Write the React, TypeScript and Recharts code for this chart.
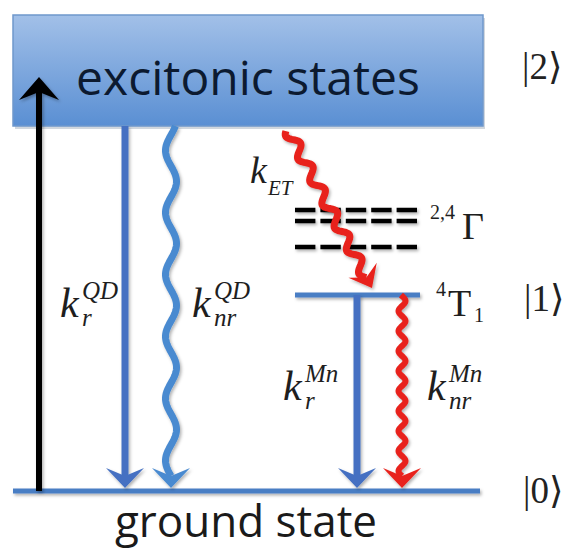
import React from 'react';
import { ComposedChart, XAxis, YAxis, ReferenceLine, ReferenceArea, ReferenceDot } from 'recharts';

// ---------- data (diagram units: x = horizontal position, E = energy, ground = 0) ----------
const bandNames = ['excitonic states'];
const bandEnergyLow = [365];
const bandEnergyHigh = [476];
const bandXStart = [13];
const bandXEnd = [483];

const levelNames = ['ground', '4T1', '2,4Γ a', '2,4Γ b', '2,4Γ c'];
const levelEnergy = [0, 196, 281, 270, 244];
const levelXStart = [13, 295, 295, 295, 295];
const levelXEnd = [480, 420, 417, 417, 417];
const levelDashed = [false, false, true, true, true];

const transitionNames = ['absorption', 'kr_QD', 'knr_QD', 'kET', 'kr_Mn', 'knr_Mn'];
const transFromX = [39, 125, 171, 288, 357, 402];
const transFromE = [0, 365, 365, 361, 196, 196];
const transToX = [39, 125, 171, 372, 357, 402];
const transToE = [414, 3, 3, 203, 3, 3];
const transWavy = [false, false, true, true, false, true];

// rate labels
const rateBase = ['k', 'k', 'k', 'k', 'k'];
const rateSub = ['r', 'nr', 'ET', 'r', 'nr'];
const rateSup = ['QD', 'QD', '', 'Mn', 'Mn'];
const rateX = [60, 192, 250, 283, 427];
const rateE = [174, 174, 308, 91, 91];

// state kets
const ketLabels = ['|2⟩', '|1⟩', '|0⟩'];
const ketX = [522, 524, 523];
const ketE = [412, 180, -12];

// term symbols
const termSup = ['2,4', '4'];
const termMain = ['Γ', 'T'];
const termSub = ['', '1'];
const termX = [430, 436];
const termE = [252, 175];

const groundLabel = 'ground state';
const groundLabelX = 246;
const groundLabelE = -46;

// ---------- styles ----------
const transColor = ['#000000', '#4470c2', '#4a8ad0', '#e8221b', '#4470c2', '#e8221b'];
const transWidth = [6, 7, 7, 7, 7, 6];
const transHeadLen = [23, 20, 20, 20, 20, 20];
const transHeadHalf = [20, 19, 19, 16, 19, 19];
const transAmp = [0, 0, 5.5, 5, 0, 3.5];
const transWave = [1, 1, 62, 26, 1, 20];

const SERIF = "'Liberation Serif', 'Times New Roman', serif";
const SANS = "'Open Sans', 'Noto Sans', sans-serif";

function wavyPath(x1: number, y1: number, x2: number, y2: number, amp: number, wl: number) {
  const dx = x2 - x1, dy = y2 - y1;
  const len = Math.hypot(dx, dy);
  const ux = dx / len, uy = dy / len, nx = -uy, ny = ux;
  const steps = Math.ceil(len);
  let d = '';
  for (let i = 0; i <= steps; i++) {
    const t = (len * i) / steps;
    const s = amp * Math.sin((2 * Math.PI * (len - t)) / wl);
    const px = x1 + ux * t + nx * s;
    const py = y1 + uy * t + ny * s;
    d += (i ? 'L' : 'M') + px.toFixed(2) + ',' + py.toFixed(2);
  }
  return d;
}

const makeArrow = (i: number) => (props: any) => {
  const { x1, y1, x2, y2 } = props;
  const dx = x2 - x1, dy = y2 - y1;
  const len = Math.hypot(dx, dy);
  const ux = dx / len, uy = dy / len, nx = -uy, ny = ux;
  const L = transHeadLen[i], Wd = transHeadHalf[i], notch = 8;
  const bx = x2 - ux * L, by = y2 - uy * L;
  const sx = x2 - ux * (L - notch), sy = y2 - uy * (L - notch);
  const head = `M${x2},${y2}L${bx + nx * Wd},${by + ny * Wd}L${sx},${sy}L${bx - nx * Wd},${by - ny * Wd}Z`;
  const stem = transWavy[i]
    ? wavyPath(x1, y1, sx, sy, transAmp[i], transWave[i])
    : `M${x1},${y1}L${sx},${sy}`;
  return (
    <g filter="url(#shadow)">
      <path d={stem} stroke={transColor[i]} strokeWidth={transWidth[i]} fill="none" strokeLinejoin="round" />
      <path d={head} fill={transColor[i]} />
    </g>
  );
};

const makeLevel = (i: number) => (props: any) => {
  const { x1, y1, x2, y2 } = props;
  if (levelDashed[i]) {
    return (
      <line x1={x1} y1={y1} x2={x2} y2={y2} stroke="#000" strokeWidth={4.5}
        strokeDasharray="20.4 5" filter="url(#shadow)" />
    );
  }
  return (
    <line x1={x1} y1={y1} x2={x2} y2={y2} stroke="#4a7ec4" strokeWidth={5} filter="url(#shadow)" />
  );
};

const makeRateLabel = (i: number) => (props: any) => {
  const { cx, cy } = props;
  const isET = rateSub[i] === 'ET';
  const kSize = isET ? 38 : 42;
  const sSize = isET ? 21 : 25;
  return (
    <g fontFamily={SERIF} fontStyle="italic" fill="#1e1e1e">
      <text x={cx} y={cy} fontSize={kSize}>{rateBase[i]}</text>
      {rateSup[i] && (
        <text x={cx + 22} y={cy - 18} fontSize={sSize}>{rateSup[i]}</text>
      )}
      <text x={cx + (isET ? 18 : 22)} y={cy + (isET ? 12 : 9)} fontSize={sSize}>{rateSub[i]}</text>
    </g>
  );
};

const makeKet = (i: number) => (props: any) => {
  const { cx, cy } = props;
  return (
    <text x={cx} y={cy} fontFamily={SERIF} fontSize={37} fill="#222">{ketLabels[i]}</text>
  );
};

const makeTerm = (i: number) => (props: any) => {
  const { cx, cy } = props;
  const supW = termSup[i].length > 1 ? 30 : 10;
  return (
    <g fontFamily={SERIF} fill="#1e1e1e">
      <text x={cx} y={cy - 20} fontSize={20}>{termSup[i]}</text>
      <text x={cx + supW + 2} y={cy} fontSize={38}>{termMain[i]}</text>
      {termSub[i] && <text x={cx + supW + 28} y={cy + 6} fontSize={20}>{termSub[i]}</text>}
    </g>
  );
};

const BandShape = (props: any) => {
  const { x, y, width, height } = props;
  return (
    <g>
      <rect x={x + 2} y={y + 3} width={width} height={height} fill="#9aa6b5" opacity={0.45} />
      <rect x={x} y={y} width={width} height={height} fill="url(#bandGrad)" stroke="#6f98cc" strokeWidth={1.5} />
      <text x={x + width / 2} y={y + 80} textAnchor="middle" fontFamily={SANS} fontSize={48}
        fill="#0c1a30">{bandNames[0]}</text>
    </g>
  );
};

export default function App() {
  return (
    <div style={{ position: 'absolute', left: 0, top: 0, background: '#fff' }}>
      <ComposedChart width={569} height={550} margin={{ top: 0, right: 0, bottom: 0, left: 0 }}>
        <defs>
          <linearGradient id="bandGrad" x1="0" y1="0" x2="0" y2="1">
            <stop offset="0%" stopColor="#a2c0e8" />
            <stop offset="100%" stopColor="#5a8fd3" />
          </linearGradient>
          <filter id="shadow" filterUnits="userSpaceOnUse" x={0} y={0} width={569} height={550}>
            <feDropShadow dx={1.5} dy={2} stdDeviation={1.5} floodColor="#000" floodOpacity={0.3} />
          </filter>
        </defs>
        <XAxis type="number" dataKey="x" domain={[0, 569]} hide allowDataOverflow />
        <YAxis type="number" dataKey="E" domain={[-59, 491]} hide allowDataOverflow />

        {bandNames.map((n, i) => (
          <ReferenceArea key={n} x1={bandXStart[i]} x2={bandXEnd[i]} y1={bandEnergyLow[i]} y2={bandEnergyHigh[i]}
            ifOverflow="visible" shape={BandShape} />
        ))}

        {levelNames.map((n, i) => (
          <ReferenceLine key={n} ifOverflow="visible"
            segment={[{ x: levelXStart[i], y: levelEnergy[i] }, { x: levelXEnd[i], y: levelEnergy[i] }]}
            shape={makeLevel(i)} />
        ))}

        {transitionNames.map((n, i) => (
          <ReferenceLine key={n} ifOverflow="visible"
            segment={[{ x: transFromX[i], y: transFromE[i] }, { x: transToX[i], y: transToE[i] }]}
            shape={makeArrow(i)} />
        ))}

        {rateBase.map((b, i) => (
          <ReferenceDot key={'rate' + i} x={rateX[i]} y={rateE[i]} r={0} ifOverflow="visible"
            shape={makeRateLabel(i)} />
        ))}

        {ketLabels.map((k, i) => (
          <ReferenceDot key={k} x={ketX[i]} y={ketE[i]} r={0} ifOverflow="visible" shape={makeKet(i)} />
        ))}

        {termMain.map((t, i) => (
          <ReferenceDot key={t} x={termX[i]} y={termE[i]} r={0} ifOverflow="visible" shape={makeTerm(i)} />
        ))}

        <ReferenceDot x={groundLabelX} y={groundLabelE} r={0} ifOverflow="visible"
          shape={(p: any) => (
            <text x={p.cx} y={p.cy} textAnchor="middle" fontFamily={SANS} fontSize={44} fill="#1a1a1a">
              {groundLabel}
            </text>
          )} />
      </ComposedChart>
    </div>
  );
}
